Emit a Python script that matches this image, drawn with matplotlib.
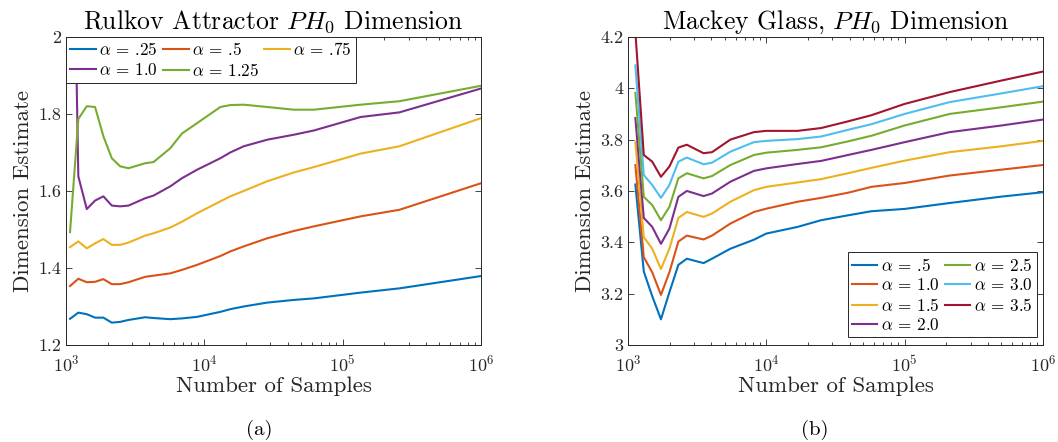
import numpy as np
import matplotlib
matplotlib.use("Agg")
import matplotlib.pyplot as plt
from matplotlib.ticker import LogLocator, FormatStrFormatter, NullFormatter

plt.rcParams['font.family'] = 'serif'
plt.rcParams['font.serif'] = ['cmr10']
plt.rcParams['mathtext.fontset'] = 'cm'
plt.rcParams['axes.formatter.use_mathtext'] = True

# MATLAB default colour order
colors = ['#0072BD', '#D95319', '#EDB120', '#7E2F8E', '#77AC30', '#4DBEEE', '#A2142F']

# ---- (a) Rulkov attractor ----
rulkov_logn = [3.029, 3.089, 3.15, 3.21, 3.27, 3.331, 3.391, 3.452, 3.572, 3.633,
               3.754, 3.838, 3.947, 4.116, 4.188, 4.285, 4.454, 4.647, 4.792, 5.13,
               5.41, 6.0]
rulkov_labels = [r'$\alpha$ = .25', r'$\alpha$ = .5', r'$\alpha$ = .75',
                 r'$\alpha$ = 1.0', r'$\alpha$ = 1.25']
rulkov_025 = [1.268, 1.284, 1.28, 1.271, 1.271, 1.258, 1.26, 1.265, 1.272, 1.27,
              1.267, 1.269, 1.273, 1.286, 1.293, 1.3, 1.31, 1.317, 1.321, 1.336,
              1.347, 1.379]
rulkov_05 = [1.353, 1.372, 1.363, 1.364, 1.371, 1.358, 1.358, 1.363, 1.377, 1.38,
             1.386, 1.395, 1.408, 1.431, 1.443, 1.456, 1.477, 1.496, 1.508, 1.534,
             1.551, 1.62]
rulkov_075 = [1.454, 1.469, 1.451, 1.464, 1.475, 1.46, 1.46, 1.466, 1.484, 1.49,
              1.505, 1.52, 1.542, 1.573, 1.586, 1.6, 1.625, 1.648, 1.662, 1.697,
              1.716, 1.789]
rulkov_10 = [2.85, 1.638, 1.553, 1.575, 1.586, 1.562, 1.56, 1.562, 1.581, 1.588,
             1.612, 1.633, 1.655, 1.685, 1.7, 1.716, 1.733, 1.746, 1.757, 1.792,
             1.804, 1.866]
rulkov_125 = [1.493, 1.787, 1.82, 1.818, 1.742, 1.685, 1.664, 1.659, 1.672, 1.675,
              1.711, 1.749, 1.776, 1.818, 1.823, 1.824, 1.818, 1.811, 1.811, 1.824,
              1.833, 1.873]

# ---- (b) Mackey Glass ----
mg_logn = [3.053, 3.114, 3.175, 3.238, 3.299, 3.364, 3.425, 3.546, 3.607, 3.74,
           3.91, 4.0, 4.226, 4.396, 4.59, 4.76, 5.0, 5.325, 5.7, 6.0]
mg_labels = [r'$\alpha$ = .5', r'$\alpha$ = 1.0', r'$\alpha$ = 1.5', r'$\alpha$ = 2.0',
             r'$\alpha$ = 2.5', r'$\alpha$ = 3.0', r'$\alpha$ = 3.5']
mg_05 = [3.625, 3.286, 3.19, 3.10, 3.205, 3.312, 3.336, 3.319, 3.336, 3.375,
         3.41, 3.434, 3.46, 3.486, 3.505, 3.521, 3.53, 3.553, 3.578, 3.595]
mg_10 = [3.701, 3.342, 3.283, 3.195, 3.283, 3.403, 3.426, 3.411, 3.426, 3.473,
         3.518, 3.531, 3.558, 3.573, 3.593, 3.616, 3.631, 3.66, 3.683, 3.701]
mg_15 = [3.79, 3.42, 3.375, 3.296, 3.375, 3.495, 3.518, 3.499, 3.512, 3.558,
         3.603, 3.616, 3.633, 3.646, 3.669, 3.69, 3.718, 3.751, 3.774, 3.795]
mg_20 = [3.884, 3.495, 3.46, 3.394, 3.453, 3.577, 3.60, 3.58, 3.59, 3.636,
         3.678, 3.688, 3.705, 3.717, 3.74, 3.76, 3.79, 3.829, 3.855, 3.878]
mg_25 = [3.982, 3.577, 3.545, 3.486, 3.538, 3.649, 3.669, 3.649, 3.658, 3.701,
         3.74, 3.749, 3.76, 3.77, 3.793, 3.815, 3.855, 3.90, 3.926, 3.948]
mg_30 = [4.089, 3.662, 3.623, 3.573, 3.623, 3.714, 3.73, 3.704, 3.71, 3.753,
         3.79, 3.795, 3.802, 3.812, 3.838, 3.86, 3.90, 3.946, 3.98, 4.008]
mg_35 = [4.22, 3.74, 3.714, 3.655, 3.695, 3.769, 3.78, 3.747, 3.751, 3.80,
         3.829, 3.834, 3.834, 3.845, 3.871, 3.895, 3.939, 3.985, 4.03, 4.065]

fig = plt.figure(figsize=(10.58, 4.42), dpi=100)
ax1 = fig.add_axes([0.0624, 0.2195, 0.3922, 0.697])
ax2 = fig.add_axes([0.5936, 0.2195, 0.3922, 0.697])


def style_axes(ax):
    ax.set_xscale('log')
    ax.set_xlim(1e3, 1e6)
    ax.xaxis.set_major_locator(LogLocator(base=10, numticks=10))
    ax.xaxis.set_minor_locator(LogLocator(base=10, subs=np.arange(2, 10), numticks=10))
    ax.xaxis.set_minor_formatter(NullFormatter())
    ax.yaxis.set_major_formatter(FormatStrFormatter('%g'))
    ax.tick_params(which='both', direction='in', top=True, right=True,
                   colors='#262626', labelcolor='#262626', width=0.6)
    ax.tick_params(which='major', length=4, labelsize=13)
    ax.tick_params(axis='x', which='major', pad=6.5)
    ax.tick_params(which='minor', length=2.2)
    for s in ax.spines.values():
        s.set_color('#262626')
        s.set_linewidth(0.7)
    ax.set_xlabel('Number of Samples', fontsize=16.5, color='#262626', labelpad=1)
    ax.set_ylabel('Dimension Estimate', fontsize=16.5, color='#262626', labelpad=4)


legend_kw = dict(fontsize=12.3, frameon=True, fancybox=False, framealpha=1,
                 edgecolor='#262626', borderaxespad=0.0, handlelength=1.5,
                 handletextpad=0.2, columnspacing=0.3, labelspacing=0.2,
                 borderpad=0.25)

rulkov_series = [rulkov_025, rulkov_05, rulkov_075, rulkov_10, rulkov_125]
lines1 = []
for vals, c, lab in zip(rulkov_series, colors, rulkov_labels):
    l, = ax1.plot(10 ** np.array(rulkov_logn), vals, color=c, lw=1.5, label=lab)
    lines1.append(l)
style_axes(ax1)
ax1.set_ylim(1.2, 2.0)
ax1.set_yticks([1.2, 1.4, 1.6, 1.8, 2.0])
ax1.set_title(r'Rulkov Attractor $PH_0$ Dimension', fontsize=18.5, pad=6)
order = [0, 3, 1, 4, 2]
leg1 = ax1.legend([lines1[i] for i in order], [rulkov_labels[i] for i in order],
                  ncol=3, loc='upper left', bbox_to_anchor=(0.0, 1.0), **legend_kw)
leg1.get_frame().set_linewidth(0.7)

mg_series = [mg_05, mg_10, mg_15, mg_20, mg_25, mg_30, mg_35]
for vals, c, lab in zip(mg_series, colors, mg_labels):
    ax2.plot(10 ** np.array(mg_logn), vals, color=c, lw=1.5, label=lab)
style_axes(ax2)
ax2.set_ylim(3.0, 4.2)
ax2.set_yticks([3.0, 3.2, 3.4, 3.6, 3.8, 4.0, 4.2])
ax2.set_title(r'Mackey Glass, $PH_0$ Dimension', fontsize=18.5, pad=6)
leg2 = ax2.legend(ncol=2, loc='lower right', bbox_to_anchor=(0.985, 0.025), **legend_kw)
leg2.get_frame().set_linewidth(0.7)

fig.text(259 / 1058, 0.027, '(a)', ha='center', va='center', fontsize=15)
fig.text(815 / 1058, 0.027, '(b)', ha='center', va='center', fontsize=15)

fig.savefig('out.png', dpi=100)
